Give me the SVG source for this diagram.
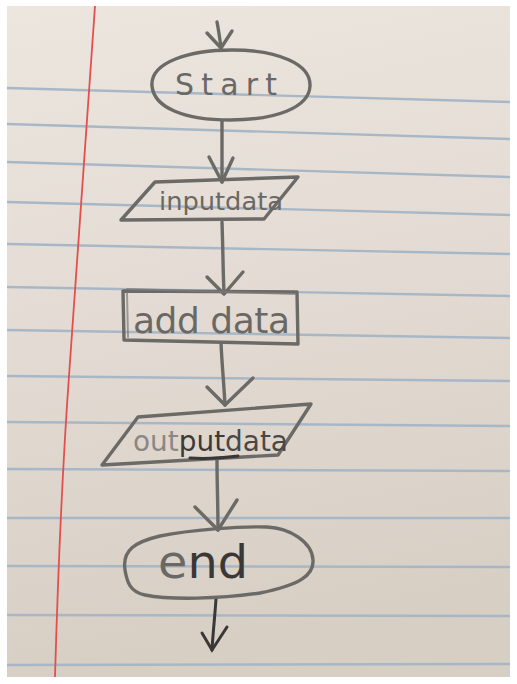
<svg xmlns="http://www.w3.org/2000/svg" width="517" height="684" viewBox="0 0 517 684">
<defs>
<linearGradient id="paper" x1="0" y1="0" x2="0.15" y2="1">
<stop offset="0" stop-color="#ece6df"/>
<stop offset="0.5" stop-color="#e3dbd3"/>
<stop offset="1" stop-color="#d7cec4"/>
</linearGradient>
<style>
.rule{stroke:#a8b7c6;stroke-width:2.4;fill:none}
.pen{stroke:#6c6a67;stroke-width:3.4;fill:none;stroke-linecap:round;stroke-linejoin:round}
.pen2{stroke:#7d7b78;stroke-width:2;fill:none;stroke-linecap:round;opacity:0.7}
.dark{stroke:#3a3836;stroke-width:3;fill:none;stroke-linecap:round}
.hand{font-family:"DejaVu Sans","Liberation Sans",sans-serif;fill:#6a6865}
</style>
</defs>
<rect x="0" y="0" width="517" height="684" fill="#ffffff"/>
<g id="paper-bg">
<rect x="7" y="6" width="503" height="671" fill="url(#paper)"/>
<g id="rules">
<line class="rule" x1="7" y1="88" x2="510" y2="102"/>
<line class="rule" x1="7" y1="124" x2="510" y2="139"/>
<line class="rule" x1="7" y1="162" x2="510" y2="177"/>
<line class="rule" x1="7" y1="202" x2="510" y2="215"/>
<line class="rule" x1="7" y1="244" x2="510" y2="254"/>
<line class="rule" x1="7" y1="287" x2="510" y2="296"/>
<line class="rule" x1="7" y1="330" x2="510" y2="338"/>
<line class="rule" x1="7" y1="376" x2="510" y2="381"/>
<line class="rule" x1="7" y1="422" x2="510" y2="426"/>
<line class="rule" x1="7" y1="469" x2="510" y2="471"/>
<line class="rule" x1="7" y1="518" x2="510" y2="518"/>
<line class="rule" x1="7" y1="566" x2="510" y2="567"/>
<line class="rule" x1="7" y1="615" x2="510" y2="616"/>
<line class="rule" x1="7" y1="665" x2="510" y2="664"/>
</g>
<path d="M95,6 Q78,250 69,376 T55,677" stroke="#e2504e" stroke-width="1.8" fill="none"/>
</g>
<g id="connectors">
<path class="pen" d="M217,22 C219,32 220,40 221,48"/>
<path class="pen" d="M207,33 L221,48 L232,31"/>
<path class="pen" d="M222,121 L222,182"/>
<path class="pen" d="M209,157 L222,182 L233,158"/>
<path class="pen" d="M222,222 C223,250 223,272 224,292"/>
<path class="pen" d="M207,277 L224,294 L243,272"/>
<path class="pen" d="M221,343 C222,365 224,385 225,405"/>
<path class="pen" d="M207,387 L225,405 L253,378"/>
<path class="pen" d="M217,460 C217,485 218,505 218,530"/>
<path class="pen" d="M195,507 L218,530 L237,500"/>
<path class="dark" d="M216,599 C215,615 213,632 212,650"/>
<path class="dark" d="M202,633 L212,650 L227,627"/>
</g>
<g id="node-start">
<path class="pen" d="M152,86 C150,62 190,50 232,50 C278,50 311,64 310,86 C309,108 275,120 230,120 C185,120 154,108 152,86 Z"/>
<text class="hand" x="175" y="95" font-size="30" textLength="102" lengthAdjust="spacing" fill="#646260">Start</text>
</g>
<g id="node-input">
<path class="pen" d="M155,182 L298,177 L264,219 L121,220 Z"/>
<text class="hand" x="159" y="210" font-size="25" textLength="124" lengthAdjust="spacingAndGlyphs" fill="#6a6865">inputdata</text>
</g>
<g id="node-add">
<path class="pen" d="M123,291 L297,292 L298,344 L124,340 Z"/>
<path class="pen2" d="M127,289 L295,294 M127,293 L128,337"/>
<text class="hand" x="133" y="333" font-size="36" textLength="157" lengthAdjust="spacing" fill="#7a7875">add data</text>
</g>
<g id="node-output">
<path class="pen" d="M138,417 L311,404 L278,455 L102,465 Z"/>
<text class="hand" x="133" y="451" font-size="29" textLength="155" lengthAdjust="spacingAndGlyphs"><tspan fill="#8a8784">out</tspan><tspan fill="#3c3a38">put</tspan><tspan fill="#4a4846">data</tspan></text>
<path class="dark" d="M190,458 C205,459 222,458 238,456"/>
</g>
<g id="node-end">
<path class="pen" d="M125,570 C122,550 135,542 160,536 C190,530 240,526 267,527 C290,528 312,542 313,560 C314,575 300,585 260,593 C220,599 170,600 145,595 C130,592 127,582 125,570 Z"/>
<text class="hand" x="158" y="578" font-size="46" textLength="90" lengthAdjust="spacingAndGlyphs"><tspan fill="#6a6865">e</tspan><tspan fill="#3a3836">nd</tspan></text>
</g>
</svg>
